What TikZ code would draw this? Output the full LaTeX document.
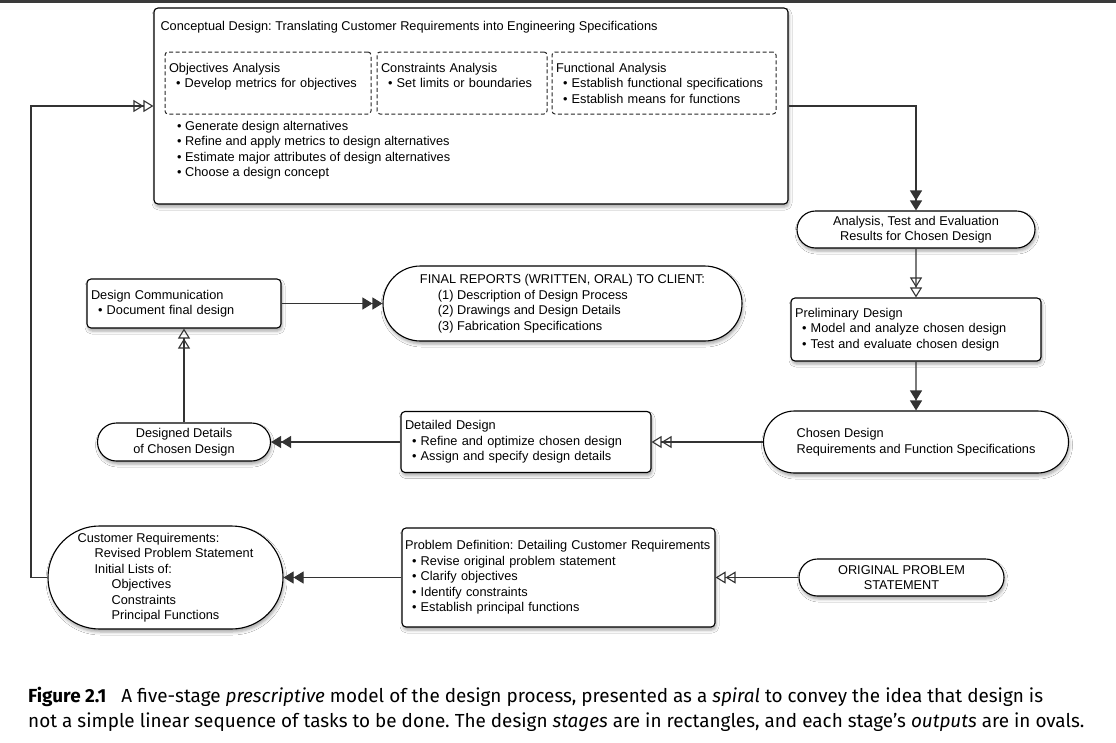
\documentclass[tikz,border=0pt]{standalone}
\usepackage{fontspec}
\setmainfont{Liberation Sans}
\newfontfamily\capfont{Fira Sans}
\usepackage{tikz}
\usetikzlibrary{shapes.misc}
\usetikzlibrary{arrows.meta}
\usetikzlibrary{shadows.blur}
\definecolor{linegray}{HTML}{333333}
\definecolor{bargray}{HTML}{3A3A3A}
\frenchspacing
\newcommand{\itm}[1]{\hspace*{7pt}\textbullet\ #1}
\newcommand{\diafont}{\fontsize{12.75}{15.5}\selectfont}
\tikzset{
  stage node/.style={draw,rectangle,rounded corners=4pt,line width=1.1pt,fill=white,font=\diafont,
    align=left,inner xsep=4pt,blur shadow={shadow xshift=1pt,shadow yshift=-3pt,shadow blur radius=3pt,shadow opacity=35}},
  output node/.style={draw,rounded rectangle,line width=1.1pt,fill=white,font=\diafont,inner sep=0pt,
    blur shadow={shadow xshift=1pt,shadow yshift=-3pt,shadow blur radius=3pt,shadow opacity=35}},
  sub node/.style={draw=black!85,dash pattern=on 4pt off 2.5pt,rounded corners=3pt,line width=1pt,font=\diafont,align=left,inner xsep=4pt},
  open tip/.style={draw=linegray,line width=1.1pt,-{Triangle[open,length=10pt,width=12pt]Triangle[open,length=10pt,width=12pt]}},
  full tip/.style={draw=linegray,line width=1.1pt,-{Triangle[length=10pt,width=12pt]Triangle[length=10pt,width=12pt]}}
}
\begin{document}
\begin{tikzpicture}[x=1pt,y=-1pt]
	\useasboundingbox (0,0) rectangle (1116,742);
	\fill[white] (0,0) rectangle (1116,742);
	\fill[bargray] (0,0) rectangle (1116,3);

	\node [stage node,minimum width=634pt,minimum height=196pt] (cd) at (471,106) {};
	\node [anchor=west,font=\diafont] (cdtitle) at (157,27) {Conceptual Design: Translating Customer Requirements into Engineering Specifications};
	\node [sub node,text width=198pt,minimum height=62pt] (oa) at (268,83) {Objectives Analysis\\ \itm{Develop metrics for objectives}\\ \mbox{}};
	\node [sub node,text width=162pt,minimum height=62pt] (ca) at (462,83) {Constraints Analysis\\ \itm{Set limits or boundaries}\\ \mbox{}};
	\node [sub node,text width=216pt,minimum height=62pt] (fa) at (664,83) {Functional Analysis\\ \itm{Establish functional specifications}\\ \itm{Establish means for functions}};
	\node [anchor=north west,align=left,inner sep=0pt,font=\diafont] (cdlist) at (170,121) {\itm{Generate design alternatives}\\
		\itm{Refine and apply metrics to design alternatives}\\
		\itm{Estimate major attributes of design alternatives}\\
		\itm{Choose a design concept}};

	\node [output node,minimum width=238pt,minimum height=37pt,align=center] (ana) at (916,229.5) {Analysis, Test and Evaluation\\ Results for Chosen Design};
	\node [stage node,text width=242pt,minimum height=63pt] (pre) at (916,329.5) {Preliminary Design\\ \itm{Model and analyze chosen design}\\ \itm{Test and evaluate chosen design}};
	\node [output node,minimum width=305pt,minimum height=62pt,align=left] (cho) at (916,442) {Chosen Design\\ Requirements and Function Specifications};
	\node [stage node,text width=242pt,minimum height=61pt] (det) at (526,442) {Detailed Design\\ \itm{Refine and optimize chosen design}\\ \itm{Assign and specify design details}};
	\node [output node,minimum width=173pt,minimum height=38pt,align=center] (dd) at (184,442) {Designed Details\\ of Chosen Design};
	\node [stage node,text width=186pt,minimum height=49pt] (dc) at (184,303.5) {Design Communication\\ \itm{Document final design}};
	\node [output node,minimum width=359pt,minimum height=75pt,align=left] (fr) at (562.5,303.5) {FINAL REPORTS (WRITTEN, ORAL) TO CLIENT:\\
		\hspace*{18pt}(1) Description of Design Process\\
		\hspace*{18pt}(2) Drawings and Design Details\\
		\hspace*{18pt}(3) Fabrication Specifications};
	\node [stage node,text width=307pt,inner xsep=3pt,minimum height=99pt] (pd) at (558.5,577.5) {\mbox{Problem Definition: Detailing Customer Requirements}\\
		\itm{Revise original problem statement}\\
		\itm{Clarify objectives}\\
		\itm{Identify constraints}\\
		\itm{Establish principal functions}};
	\node [output node,minimum width=205pt,minimum height=37pt,align=center] (ops) at (901.5,577.5) {ORIGINAL PROBLEM\\ STATEMENT};
	\node [output node,minimum width=235pt,minimum height=103pt,align=left] (cr) at (165.5,577.5) {Customer Requirements:\\
		\hspace*{17pt}Revised Problem Statement\\
		\hspace*{17pt}Initial Lists of:\\
		\hspace*{34pt}Objectives\\
		\hspace*{34pt}Constraints\\
		\hspace*{34pt}Principal Functions};
	\coordinate (bend) at (31,106);

	\draw [open tip] (cr.west) -| (bend) -- (cd.west);
	\draw [full tip] (cd.east) -| (ana.north);
	\draw [open tip] (ana) -- (pre);
	\draw [full tip] (pre) -- (cho);
	\draw [open tip] (cho.west) -- (det.east);
	\draw [full tip] (det.west) -- (dd.east);
	\draw [open tip] (dd.north) -- (dc.south);
	\draw [full tip] (dc.east) -- (fr.west);
	\draw [open tip] (ops.west) -- (pd.east);
	\draw [full tip] (pd.west) -- (cr.east);

	\node [anchor=north west,align=left,inner sep=0pt,font=\capfont\fontsize{18.9}{25}\selectfont] (caption) at (28,687) {\textbf{Figure 2.1}\hspace{15pt}A five-stage \textit{prescriptive} model of the design process, presented as a \textit{spiral} to convey the idea that design is\\
		not a simple linear sequence of tasks to be done. The design \textit{stages} are in rectangles, and each stage’s \textit{outputs} are in ovals.};
\end{tikzpicture}
\end{document}
